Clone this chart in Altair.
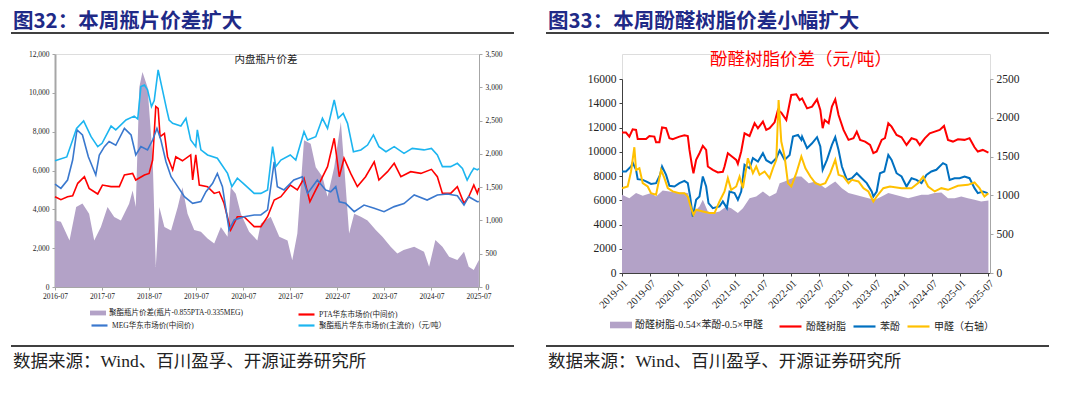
import altair as alt
import pandas as pd
import numpy as np

# ---------------- Figure 32 (left) : x = months since 2016-07-01 ----------------
L_START = "2016-07-01"
BOTTLE_M = [0, 3, 4.5, 5.5, 7.3, 9.2, 10.9, 12, 14.3, 15.5, 18.1, 20.2, 21.1, 21.9, 22.8, 23.6,
            24.6, 25.3, 26.3, 27.4, 28.5, 29.1, 30, 32.1, 33.4, 34.6, 35.9, 36.3, 37.2, 38.9,
            41.4, 44, 45.1, 46.5, 48, 50.8, 52.5, 54.2, 55.5, 56.3, 57.6, 60, 61.4, 63.5, 64.4,
            66.5, 68.2, 69.5, 71.2, 72.2, 73.5, 74.6, 76.1, 78, 79.7, 81.2, 82.6, 84.4, 86.5,
            89, 91.1, 94.1, 96, 97.5, 98.8, 100.9, 102.6, 103.9, 105.1, 106, 106.8, 107.7, 108.1]
BOTTLE_V = [6500, 6700, 7570, 8170, 8550, 7740, 7230, 7400, 8290, 8090, 8600, 8800, 8650, 10320,
            10400, 10150, 9290, 9600, 11180, 10150, 9120, 8600, 8430, 8290, 8690, 7570, 7230,
            8090, 7060, 6800, 6630, 5850, 5170, 5600, 5340, 4820, 4820, 5000, 7230, 6200, 6540,
            6800, 6540, 8000, 7570, 7740, 8690, 8170, 9630, 8690, 8940, 8430, 6970, 7060, 7310,
            7830, 7230, 6970, 7230, 6880, 7140, 7060, 7140, 6800, 6200, 6200, 6370, 6110, 5510,
            5850, 6110, 6030, 6100]

PTA_M = [0, 1.5, 3.2, 4.5, 5.8, 7.5, 8.7, 10.9, 12.1, 14.3, 16.4, 17.7, 19.8, 20.6, 22.8, 24,
         24.9, 25.7, 26.3, 26.8, 27.9, 28.7, 30, 30.8, 32.5, 34.6, 35.1, 35.9, 36.8, 38.9, 40.6,
         41.9, 43.1, 44.8, 46.5, 48.2, 50.8, 52.5, 54.2, 55.9, 57.6, 60, 61.8, 63.5, 65, 66.5,
         67.8, 69.5, 71.2, 72.5, 73.7, 75.4, 77.1, 79.2, 81.4, 82.6, 84.8, 86.5, 88.2, 90.7,
         93.3, 96, 97.5, 98.8, 100.9, 102.6, 104.3, 105.5, 106.8, 107.7, 108.1]
PTA_V = [4650, 4500, 4650, 4700, 5340, 5680, 5080, 4790, 5250, 5170, 5170, 5770, 5850, 5510,
         5770, 5850, 6540, 9290, 9200, 7740, 7910, 6710, 6030, 6710, 6500, 6800, 5510, 6800,
         5250, 5170, 4820, 4900, 4310, 2940, 3620, 3620, 3110, 3110, 3620, 4480, 4650, 5250,
         5000, 5600, 4390, 5000, 5510, 6200, 7660, 5680, 6630, 5850, 5170, 5680, 6450, 5510,
         5940, 6370, 5680, 5940, 5850, 6060, 5680, 4820, 4820, 5170, 4310, 4650, 5250, 4820,
         5100]

MEG_M = [0, 1.5, 3.2, 4.5, 5.6, 7, 8.5, 10.4, 11.3, 12.6, 13.8, 15.5, 17.7, 19.4, 20.6, 21.9,
         23.6, 24.9, 26, 27, 28.3, 29.6, 31.3, 33, 35.1, 37.2, 38.5, 40.2, 41.4, 42.7, 44.4,
         45.7, 48.2, 50.8, 52.5, 54.2, 55.9, 56.7, 58.4, 60.9, 63.1, 64.4, 66.9, 69, 70.3,
         71.6, 72.5, 74.1, 76.3, 78.8, 81.4, 83.9, 86.5, 89, 91.6, 94.9, 97.5, 100.1, 102.6,
         104.3, 105.5, 107.7, 108.1]
MEG_V = [5300, 5080, 5510, 6540, 8090, 7830, 6710, 5770, 6800, 7230, 7490, 7300, 8170, 7830,
         6800, 7230, 7060, 7570, 8170, 7570, 6450, 5680, 5170, 4650, 4310, 4400, 4910, 5340,
         5850, 5170, 2940, 3450, 3620, 3710, 3710, 3970, 6450, 5170, 5000, 5510, 5680, 4820,
         5510, 5000, 4900, 5170, 4390, 4310, 3880, 4220, 4050, 3880, 4140, 4300, 4740, 4480,
         4740, 4790, 4700, 4220, 4650, 4390, 4400]

SPREAD32_M = [0, 1.5, 3.7, 5.4, 7, 8.7, 10, 11.7, 13.4, 15.1, 16.8, 18.9, 19.8, 20.6, 21.5,
              22.3, 23.6, 24.9, 25.7, 26.6, 27.9, 29.6, 31.3, 32.5, 33.8, 35.5, 37.2, 38.9,
              40.6, 42.3, 44, 44.8, 46.1, 47.4, 49.5, 51.6, 52.5, 55, 57.2, 59.3, 60.5, 61.8,
              63.5, 65.2, 66.5, 68.2, 69.5, 71.2, 72.9, 73.7, 75, 76.3, 78, 79.7, 81.8, 83.5,
              85.6, 87.3, 88.9, 91.6, 94.1, 95.4, 97, 98.8, 100.5, 102.6, 104.3, 105.5, 106.8,
              108.1]
SPREAD32_V = [1000, 980, 700, 1200, 1255, 1100, 700, 900, 1200, 1050, 1000, 1250, 1450, 1200,
              3000, 3230, 3000, 1950, 300, 1200, 900, 850, 1200, 1500, 1100, 855, 830, 730,
              655, 900, 755, 1500, 1400, 1100, 830, 700, 955, 1055, 755, 700, 400, 805, 2205,
              2150, 1800, 1655, 1355, 1800, 2480, 1855, 805, 1100, 1055, 1000, 855, 755, 605,
              505, 555, 605, 530, 305, 705, 605, 455, 405, 530, 305, 255, 405]

# ---------------- Figure 33 (right) : x = months since 2019-01-01 ----------------
R_START = "2019-01-01"
RESIN_M = [0, 0.85, 1.56, 2.27, 2.99, 3.34, 5.12, 5.83, 6.89, 7.25, 7.96, 8.53, 9.38, 10.09,
           10.8, 12.22, 13.29, 14, 14.36, 14.93, 15.21, 15.78, 16.49, 17.2, 17.91, 18.27,
           19.33, 20.4, 21.46, 21.82, 22.53, 23.6, 24.31, 24.66, 25.37, 26.08, 27.15, 28.22,
           28.93, 29.99, 30.7, 31.41, 32.48, 33.19, 33.9, 34.97, 36.03, 37.1, 37.81, 38.33,
           39.39, 40.45, 41.51, 42.21, 42.71, 43.13, 43.98, 44.68, 45.39, 46.09, 47.15, 48.21,
           49.27, 49.97, 50.68, 51.74, 52.8, 53.5, 54.21, 55.27, 55.97, 56.68, 57.38, 58.44,
           59.5, 60.56, 61.62, 62.68, 63.38, 64.44, 65.5, 66.56, 67.62, 68.54, 69.38, 70.44,
           71.5, 72.91, 73.97, 75.03, 75.73, 76.79, 77.99]
RESIN_V = [11580, 11580, 11250, 11850, 11800, 11060, 11060, 11300, 11250, 10780, 10780, 12000,
           11950, 11110, 11030, 11250, 11360, 11300, 10150, 8780, 8230, 9330, 9880, 10480,
           10150, 8780, 8510, 8290, 8350, 8780, 9880, 9550, 9330, 9000, 10020, 11520, 11300,
           12350, 11940, 12490, 11800, 11940, 12430, 13450, 13230, 12620, 14680, 14740, 14270,
           14400, 13580, 13720, 14320, 13450, 11940, 12620, 12350, 13720, 14320, 13030, 11800,
           10980, 11120, 11660, 10980, 10840, 10560, 9880, 10020, 10980, 11120, 12350, 12070,
           11390, 11190, 10560, 11110, 10980, 10560, 11110, 11520, 11660, 11800, 12130, 10980,
           10840, 11030, 10980, 11120, 10370, 10020, 10150, 9930]

PHENOL_M = [0, 0.85, 1.92, 2.27, 2.99, 3.34, 4.41, 5.12, 6.18, 7.25, 8.1, 8.53, 9.38, 10.09,
            11.16, 12.22, 13.29, 14, 14.5, 15.07, 15.78, 16.49, 17.2, 17.91, 18.41, 19.33,
            20.75, 21.46, 22.32, 22.89, 23.95, 24.66, 25.37, 26.08, 27.15, 27.86, 28.93, 29.99,
            30.7, 31.77, 32.84, 33.55, 34.61, 35.68, 36.39, 37.46, 38.17, 38.33, 39.39, 40.45,
            41.51, 42.21, 42.71, 43.62, 44.68, 45.39, 46.09, 46.8, 47.86, 48.92, 49.97, 51.03,
            52.09, 53.15, 53.5, 54.21, 54.91, 55.83, 56.68, 57.38, 58.44, 59.5, 60.56, 61.62,
            62.68, 63.74, 64.79, 65.85, 66.91, 68.32, 69.03, 69.73, 70.79, 71.85, 72.91, 73.97,
            75.03, 75.73, 76.79, 77.85]
PHENOL_V = [8370, 8370, 8780, 9110, 8510, 7740, 7680, 7550, 7350, 7410, 8090, 8780, 8090, 7190,
            7130, 7410, 7600, 7410, 6310, 4660, 6040, 6310, 7960, 7130, 5760, 5350, 5490, 5900,
            5350, 6720, 6590, 6040, 6720, 8920, 8640, 9470, 9190, 9880, 9300, 9060, 9470, 10100,
            9330, 9740, 11250, 11390, 10980, 11250, 10290, 10700, 11200, 10430, 8510, 9330,
            10560, 11200, 10150, 8780, 7680, 7820, 8230, 7820, 7410, 6720, 6310, 6720, 8230,
            8370, 9740, 9330, 8230, 7960, 7130, 7820, 7680, 7410, 8090, 8370, 8510, 9060, 8920,
            7680, 7820, 7820, 7960, 7820, 7000, 6590, 6720, 6590]

FORMAL_M = [0, 1.21, 1.92, 2.63, 2.99, 3.7, 4.41, 5.47, 6.18, 7.25, 8.32, 9.03, 9.74, 10.8,
            12.22, 13.29, 14, 14.71, 15.21, 15.78, 17.2, 18.62, 19.69, 20.75, 21.82, 22.53,
            23.24, 24.31, 25.02, 25.73, 26.79, 27.86, 28.57, 29.28, 30.35, 31.41, 32.13, 32.84,
            33.33, 33.9, 34.61, 35.32, 36.03, 37.1, 38.17, 39.04, 40.09, 41.15, 42.21, 43.27,
            44.33, 45.39, 46.09, 47.15, 48.21, 48.92, 50.33, 51.39, 52.44, 53.5, 54.21, 55.62,
            57.03, 59.5, 61.62, 63.03, 64.09, 65.15, 66.56, 67.97, 69.38, 71.5, 73.62, 75.03,
            76.09, 77.14, 77.99]
FORMAL_V = [1093, 1115, 1308, 1621, 1329, 1350, 1158, 1115, 1029, 1008, 1329, 1222, 1093, 1051,
            1029, 1029, 986, 836, 750, 815, 793, 772, 772, 922, 1051, 1222, 1072, 1115, 1243,
            1093, 1479, 1286, 1372, 1265, 1308, 1222, 1350, 1458, 2230, 1694, 1501, 1158, 1115,
            1286, 1501, 1350, 1243, 1158, 1136, 1158, 1286, 1458, 1265, 1243, 1158, 1200, 1179,
            1093, 1051, 922, 986, 1093, 1115, 1093, 1093, 1158, 1243, 1115, 1051, 1093, 1072,
            1123, 1136, 1166, 1093, 986, 1029]

SPREAD33_M = [0, 1.56, 2.99, 4.41, 6.18, 7.25, 8.67, 10.09, 11.51, 12.94, 14, 14.71, 15.42,
              16.49, 17.2, 18.27, 19.33, 20.75, 22.17, 23.24, 24.66, 25.73, 27.15, 28.57,
              29.99, 31.41, 32.84, 33.55, 34.61, 35.68, 37.1, 38.17, 39.74, 41.15, 42.21,
              43.27, 44.33, 45.39, 46.8, 48.21, 49.62, 51.03, 52.44, 53.86, 55.27, 56.68,
              58.09, 59.5, 60.91, 62.32, 63.74, 65.15, 66.56, 67.97, 69.38, 70.79, 72.2, 73.62,
              75.03, 76.44, 77.99]
SPREAD33_V = [6450, 6170, 6590, 6370, 6590, 6310, 6800, 6720, 6640, 6640, 6590, 5490, 5080,
              5490, 6040, 5080, 4940, 5080, 5490, 5350, 4940, 5350, 6170, 6310, 6720, 6310,
              6590, 7410, 7550, 7740, 7960, 7960, 7410, 7550, 7270, 7000, 7270, 7550, 7000,
              6590, 6450, 6310, 6170, 6040, 6310, 6590, 6450, 6310, 6170, 6310, 6450, 6450,
              6590, 6640, 6170, 6170, 6310, 6170, 6040, 5900, 5980]

# ---------------- labels ----------------
L_NAMES = ["聚酯瓶片价差(瓶片-0.855PTA-0.335MEG)", "PTA华东市场价(中间价)",
           "MEG华东市场价(中间价)", "聚酯瓶片华东市场价(主流价)（元/吨）"]
R_NAMES = ["酚醛树脂-0.54×苯酚-0.5×甲醛", "酚醛树脂", "苯酚", "甲醛（右轴）"]
L_COLORS = ["#B3A2C7", "#FF0000", "#3A78CE", "#1CB5F0"]
R_COLORS = ["#B3A2C7", "#FF0000", "#0070C0", "#FFC000"]
L_HEAD = "图32：本周瓶片价差扩大"
R_HEAD = "图33：本周酚醛树脂价差小幅扩大"
L_SUB = "内盘瓶片价差"
R_SUB = "酚醛树脂价差（元/吨）"
SOURCE = "数据来源：Wind、百川盈孚、开源证券研究所"

SERIF = "Liberation Serif, Noto Sans CJK SC"
CJK = "Noto Sans CJK SC"
NAVY = "#1F2A87"
AXIS_GREY = "#A6A6A6"
HEAD_Y = -32


def frame(start, months, values, name):
    d = pd.Timestamp(start) + pd.to_timedelta(np.array(months) * 30.4375, unit="D")
    return pd.DataFrame({"date": d.round("h"), "value": values, "series": name})


ONE = pd.DataFrame({"k": [0]})


def legend(x, y, kind, fs, w):
    common = dict(orient="none", legendX=x, legendY=y, title=None, labelFont=SERIF,
                  labelFontSize=fs, labelColor="#222222", labelOffset=3, padding=0,
                  symbolSize=w * w, labelLimit=400)
    if kind == "area":
        return alt.Legend(symbolType="M-1,-0.3H1V0.3H-1Z", symbolStrokeWidth=0, **common)
    return alt.Legend(symbolType="stroke", symbolStrokeWidth=2.2, **common)


def color(name, col, leg):
    return alt.Color("series:N", scale=alt.Scale(domain=[name], range=[col]), legend=leg)


def text(t, x, y, size, col, font, weight="normal", align="left"):
    return alt.Chart(ONE).mark_text(text=t, align=align, baseline="middle", fontSize=size,
                                    color=col, font=font, fontWeight=weight).encode(
        x=alt.value(x), y=alt.value(y))


def rule(x1, x2, y):
    return alt.Chart(ONE).mark_rule(color="#000000", strokeWidth=1.4).encode(
        x=alt.value(x1), x2=alt.value(x2), y=alt.value(y))


# ---------------- left panel ----------------
LW, LH = 424, 233
xL = alt.X("date:T", title=None,
           scale=alt.Scale(domain=[alt.DateTime(year=2016, month=7, date=1),
                                   alt.DateTime(year=2025, month=7, date=5)]),
           axis=alt.Axis(values=[alt.DateTime(year=y, month=7, date=1) for y in range(2016, 2026)],
                         format="%Y-%m", labelFont=SERIF, labelFontSize=7.5, labelColor="#222222",
                         tickSize=3, domainColor=AXIS_GREY, tickColor=AXIS_GREY, grid=False,
                         labelPadding=2, labelFlush=False, labelOverlap=False))
yL_left = alt.Y("value:Q", title=None, scale=alt.Scale(domain=[0, 12000]),
                axis=alt.Axis(orient="left", values=list(range(0, 12001, 2000)), format=",d",
                              labelFont=SERIF, labelFontSize=7.5, labelColor="#222222",
                              tickSize=3, domainColor=AXIS_GREY, domainWidth=2,
                              tickColor=AXIS_GREY, grid=False, labelPadding=3))
yL_right = alt.Y("value:Q", title=None, scale=alt.Scale(domain=[0, 3500]),
                 axis=alt.Axis(orient="right", values=list(range(0, 3501, 500)), format=",d",
                               labelFont=SERIF, labelFontSize=7.5, labelColor="#222222",
                               tickSize=3, domainColor=AXIS_GREY, tickColor=AXIS_GREY,
                               grid=False, labelPadding=3))

l_area = alt.Chart(frame(L_START, SPREAD32_M, SPREAD32_V, L_NAMES[0])).mark_area(
    opacity=1, interpolate="linear").encode(
    x=xL, y=yL_right, color=color(L_NAMES[0], L_COLORS[0], legend(35, 251, "area", 7.5, 16)))
l_pta = alt.Chart(frame(L_START, PTA_M, PTA_V, L_NAMES[1])).mark_line(strokeWidth=1.6).encode(
    x=xL, y=yL_left, color=color(L_NAMES[1], L_COLORS[1], legend(242, 251, "line", 7.5, 16)))
l_meg = alt.Chart(frame(L_START, MEG_M, MEG_V, L_NAMES[2])).mark_line(strokeWidth=1.6).encode(
    x=xL, y=yL_left, color=color(L_NAMES[2], L_COLORS[2], legend(35, 262, "line", 7.5, 16)))
l_bot = alt.Chart(frame(L_START, BOTTLE_M, BOTTLE_V, L_NAMES[3])).mark_line(strokeWidth=1.6).encode(
    x=xL, y=yL_left, color=color(L_NAMES[3], L_COLORS[3], legend(242, 262, "line", 7.5, 16)))
l_lines = alt.layer(l_pta, l_meg, l_bot).resolve_scale(color="independent")

left = alt.layer(
    l_area, l_lines,
    text(L_HEAD, -42, HEAD_Y, 20.5, NAVY, CJK, "bold"),
    rule(-44, 459, -21),
    text(L_SUB, 211, 6, 10.5, "#222222", CJK, align="center"),
    rule(-44, 459, 292),
    text(SOURCE, -42, 308, 17.5, "#222222", SERIF),
).resolve_scale(y="independent", color="independent").properties(width=LW, height=LH)

# ---------------- right panel ----------------
RW, RH = 368, 219
RANGE = [219, 25]
xR = alt.X("date:T", title=None,
           scale=alt.Scale(domain=[alt.DateTime(year=2019, month=1, date=1),
                                   alt.DateTime(year=2025, month=7, date=12)]),
           axis=alt.Axis(values=[alt.DateTime(year=y, month=m, date=1)
                                 for y in range(2019, 2026) for m in (1, 7)],
                         format="%Y-%m", labelAngle=-45, labelAlign="right", labelBaseline="top",
                         labelFont=SERIF, labelFontSize=10.5, labelColor="#222222", tickSize=3,
                         domainColor="#404040", tickColor="#404040", grid=False,
                         labelPadding=2, labelFlush=False, labelOverlap=False))
yR_left = alt.Y("value:Q", title=None, scale=alt.Scale(domain=[0, 16000], range=RANGE),
                axis=alt.Axis(orient="left", values=list(range(0, 16001, 2000)), format="d",
                              labelFont=SERIF, labelFontSize=11.5, labelColor="#222222",
                              tickSize=3, domainColor="#404040", tickColor="#404040",
                              grid=False, labelPadding=3))
yR_right = alt.Y("value:Q", title=None, scale=alt.Scale(domain=[0, 2500], range=RANGE),
                 axis=alt.Axis(orient="right", values=list(range(0, 2501, 500)), format="d",
                               labelFont=SERIF, labelFontSize=11.5, labelColor="#222222",
                               tickSize=3, domainColor=AXIS_GREY, tickColor=AXIS_GREY,
                               grid=False, labelPadding=3))

r_area = alt.Chart(frame(R_START, SPREAD33_M, SPREAD33_V, R_NAMES[0])).mark_area(
    opacity=1, interpolate="linear").encode(
    x=xR, y=yR_left, color=color(R_NAMES[0], R_COLORS[0], legend(-12, 260, "area", 10, 22)))
r_resin = alt.Chart(frame(R_START, RESIN_M, RESIN_V, R_NAMES[1])).mark_line(strokeWidth=2).encode(
    x=xR, y=yR_left, color=color(R_NAMES[1], R_COLORS[1], legend(156, 260, "line", 10, 22)))
r_phen = alt.Chart(frame(R_START, PHENOL_M, PHENOL_V, R_NAMES[2])).mark_line(strokeWidth=2).encode(
    x=xR, y=yR_left, color=color(R_NAMES[2], R_COLORS[2], legend(230, 260, "line", 10, 22)))
r_main = alt.layer(r_area, r_resin, r_phen).resolve_scale(color="independent")
r_form = alt.Chart(frame(R_START, FORMAL_M, FORMAL_V, R_NAMES[3])).mark_line(strokeWidth=2).encode(
    x=xR, y=yR_right, color=color(R_NAMES[3], R_COLORS[3], legend(284, 260, "line", 10, 22)))

right = alt.layer(
    r_main, r_form,
    text(R_HEAD, -74, HEAD_Y, 20.5, NAVY, CJK, "bold"),
    rule(-76, 427, -21),
    text(R_SUB, 179, 6, 17.5, "#FF0000", CJK, align="center"),
    rule(-76, 427, 292),
    text(SOURCE, -74, 308, 17.5, "#222222", SERIF),
).resolve_scale(y="independent", color="independent").properties(width=RW, height=RH)

chart = alt.hconcat(left, right, spacing=143, bounds="flush").resolve_scale(
    x="independent", y="independent", color="independent"
).properties(
    padding={"left": 1, "top": 3, "right": 2, "bottom": 2}
).configure_view(stroke=None).configure(background="white")

chart.save("out.html", embed_options={"renderer": "svg", "actions": False})
